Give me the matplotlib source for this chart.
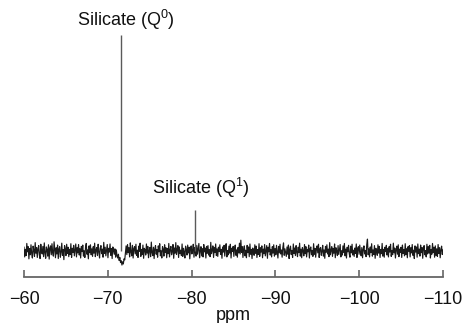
import numpy as np
import matplotlib
matplotlib.use("Agg")
import matplotlib.pyplot as plt

plt.rcParams['font.family'] = ['Liberation Sans', 'DejaVu Sans']
plt.rcParams['mathtext.fontset'] = 'custom'
plt.rcParams['mathtext.rm'] = 'Liberation Sans'

# ---- data ----
ppm_start, ppm_end = -60.0, -110.0
baseline_noise = [
    1.4, -2.2, 0.6, -1.7, 2.8, -0.3, 1.6, -2.9, 0.9, -1.4, 2.3, -1.0, -2.6, 1.8, 0.4, -2.0, 3.1, -0.8, 1.3, -2.4,
    0.7, 2.0, -1.5, -2.8, 2.5, -0.2, -1.1, 1.7, -2.1, 3.0, -0.6, -2.7, 1.5, 0.5, -1.9, 2.3, -3.0, 1.1, 1.9, -1.4,
    2.7, -0.7, -1.9, 3.4, 0.2, -2.5, 1.2, -1.1, 2.2, -2.8, 0.8, 1.6, -2.3, -0.4, 2.9, -1.6, 0.5, -3.2, 2.0, 0.7,
    -1.7, 2.5, -0.9, 1.4, -2.1, 0.6, -1.3, 2.7, -2.4, 1.0, -0.5, 2.1, -1.8, 0.3, 2.6, -2.2, 1.2, -0.7, 2.4, -1.5,
    0.9, -2.6, 1.7, -0.2, 2.2, -1.9, 0.1, -2.4, 1.5, 2.8, -1.2, 0.4, -2.9, 1.9, -0.6, 2.3, -1.4, 0.8, -2.0, 1.6,
    -0.8, 2.9, -2.1, 0.5, 1.3, -1.7, 2.5, -0.3, -2.6, 1.1, 2.0, -1.0, 0.7, -2.3, 3.2, -0.9, 1.4, -1.8, 0.2, 2.4,
    -2.5, 1.0, -0.4, 2.6, -1.6, 0.9, -2.8, 1.5, 0.3, -1.2, 0.8, -2.3, 0.4, -1.9, -2.6, -1.2, -3.5, -2.4, -4.3, -3.6,
    -5.2, -4.0, -4.8, -2.9, -3.3, -0.8, 1.9, -1.3, 2.4, -0.6, 1.2, -2.2, 3.0, -0.4, -1.8, 2.1, -2.6, 0.9, 1.6, -1.1,
    2.5, -1.6, 0.3, -2.4, 1.8, -0.1, 2.9, -2.0, 0.6, -1.3, 2.2, -2.7, 1.0, 0.4, -1.5, 2.6, -0.8, 1.7, -2.5, 0.2,
    1.3, -2.1, 3.3, -0.6, -1.7, 1.4, -2.8, 0.8, 2.0, -1.2, 0.5, -2.3, 1.9, -0.3, 2.7, -1.8, 0.1, -2.6, 1.6, 0.7,
    -1.9, 2.3, -0.5, 1.2, -2.5, 0.9, -1.0, 2.8, -2.2, 0.4, 1.7, -1.4, -0.2, 2.4, -2.7, 1.1, -0.8, 3.1, -1.3, 0.6,
    2.0, -2.4, 1.5, -0.9, 0.3, -1.7, 2.6, -2.0, 1.0, -0.4, -2.6, 1.8, 0.5, -1.5, 2.2, -0.7, 1.4, -2.9, 0.8, 1.9,
    -1.1, 0.2, 2.5, -2.3, 1.3, -0.6, -1.9, 2.1, -1.2, 0.7, 2.8, -2.5, 0.0, 1.6, -1.8, 0.9, -2.2, 2.4, -0.3, 1.1,
    -2.6, 1.7, -0.9, 2.0, -1.5, 0.5, -2.1, 3.2, -1.0, 0.3, 1.9, -2.4, 1.2, -0.6, 2.6, -1.7, 0.8, -2.0, 1.4, -0.2,
    2.3, -1.3, 0.6, -2.7, 1.5, -0.4, 2.1, -1.9, 0.9, 2.7, -2.2, 0.1, -1.4, 1.8, -0.8, 2.5, -2.6, 1.0, -0.1, 1.7,
    -2.0, 0.8, 2.2, -1.6, 0.4, -2.3, 1.3, -0.7, 2.9, -1.1, 4.0, -0.5, 1.6, -2.4, 0.7, 1.9, -1.8, 0.3, -2.5, 2.1,
    -0.6, 1.5, -2.1, 2.6, -1.2, 0.6, -2.8, 1.1, 0.2, -1.6, 2.3, -0.9, 1.8, -2.4, 0.5, -1.3, 2.7, -2.0, 1.2, -0.4,
    1.9, -2.5, 0.7, -1.0, 2.4, -1.8, 0.1, 2.0, -2.7, 1.4, -0.3, 2.8, -1.5, 0.6, -2.2, 1.6, -0.8, 2.3, -1.9, 0.9,
    -1.4, 2.1, -0.2, -2.6, 1.7, -0.7, 2.5, -1.1, 0.4, -2.3, 1.2, 3.0, -1.6, 0.8, -0.5, -2.0, 1.5, -1.2, 2.2, -2.8,
    0.6, 1.8, -1.3, 0.2, -2.4, 2.6, -0.9, 1.1, -1.7, 2.0, -0.4, -2.1, 1.4, -0.6, 2.9, -1.9, 0.7, -2.5, 1.3, 0.1,
    -1.8, 2.4, -1.0, 1.6, -2.2, 0.5, -0.3, 2.2, -2.6, 0.9, 1.5, -1.4, 0.2, -2.0, 2.7, -1.2, 1.0, -2.3, 0.6, 1.9,
    -0.7, 2.5, -2.4, 0.8, 1.3, -1.6, -0.2, 2.1, -1.9, 0.4, -2.7, 1.7, -0.5, 2.3, -1.1, 0.7, -2.1, 3.1, -1.4, 0.3,
    1.6, -2.0, 0.9, -0.8, 2.6, -2.5, 1.2, -0.1, -1.7, 2.0, -1.3, 0.5, 2.4, -2.2, 0.1, -1.5, 1.9, -0.6, 2.8, -1.8,
    0.7, -2.6, 1.4, -0.3, 2.1, -1.0, -2.3, 1.8, -0.7, 2.5, -1.5, 0.3, -2.0, 1.1, -0.9, 2.6, -2.4, 0.9, 1.6, -1.2,
    2.2, -0.5, -1.8, 1.3, -2.5, 0.6, 1.9, -1.1, 0.2, -2.1, 2.4, 4.4, -1.4, 0.8, -2.2, 1.5, -0.6, 2.7, -1.9, 0.4,
    -1.3, 2.0, -2.7, 1.0, 0.3, -1.6, 2.3, -0.8, 1.7, -2.4, 0.5, -1.0, 2.8, -1.9, 0.6, -2.3, 1.4, -0.2, 2.1, -1.5,
    0.9, -2.2, 1.6, -0.4, 2.5, -2.0, 0.2, -1.4, 2.9, -0.7, 1.1, -2.6, 0.4, 1.8, -1.2, 2.3, -2.1, 0.7, -0.5, 1.4,
    -2.4, 2.2, -0.9, 0.5, -1.8, 2.7, -1.3, 0.8, -2.5, 1.6, -0.1, 2.0, -2.2, 1.2, -0.7, 2.4, -1.6, 0.3, -2.8, 1.9,
    -0.4, 1.5, -2.3, 2.6, -1.0, 0.7, -1.9, 2.2, -0.6, 1.3, -2.7, 0.9, 2.0, -1.4, 0.1, -2.2, 2.5, -1.1, 1.7, -0.8,
    2.1, -2.6, 0.6, -1.2, 2.8, -0.5, 1.4, -2.3, 1.9, -1.7, 0.8, -2.0, 2.4, -0.9, 1.2, -2.5, 0.5, 1.8, -1.3, 0.4,
]
peak_ppm = [-71.6, -80.4]
peak_height = [80.0, 15.0]
peak_labels = ["Silicate (Q$^{0}$)", "Silicate (Q$^{1}$)"]
tick_values = [-60, -70, -80, -90, -100, -110]
tick_labels = ["\u221260", "\u221270", "\u221280", "\u221290", "\u2212100", "\u2212110"]

# ---- figure ----
fig = plt.figure(figsize=(4.63, 3.23), dpi=100)
W, H = 463, 323
ax = fig.add_axes([24 / W, 46 / H, 419 / W, 247 / H])

ppm = np.linspace(ppm_start, ppm_end, len(baseline_noise))
ax.plot(ppm, baseline_noise, color='#1a1a1a', lw=0.85)
ax.vlines(peak_ppm, 0, peak_height, color='#5a5a5a', lw=1.0)

ax.set_xlim(ppm_start, ppm_end)
ax.set_ylim(-9.63, 81.85)

label_y = [85.6, 23.3]
label_dx = [-0.6, -0.7]
for p, lab, ly, dx in zip(peak_ppm, peak_labels, label_y, label_dx):
    ax.text(p + dx, ly, lab, ha='center', va='center',
            fontsize=13, color='#111111', clip_on=False)

for s in ['top', 'right', 'left']:
    ax.spines[s].set_visible(False)
ax.spines['bottom'].set_color('#666666')
ax.spines['bottom'].set_linewidth(1.3)
ax.set_yticks([])
ax.set_xticks(tick_values)
ax.set_xticklabels(tick_labels, fontsize=13)
ax.tick_params(axis='x', direction='in', length=5, width=1.2, color='#666666',
               pad=10, labelcolor='#111111')
ax.set_xlabel('ppm', fontsize=13, labelpad=-1, color='#111111')

fig.savefig('out.png', dpi=100)
